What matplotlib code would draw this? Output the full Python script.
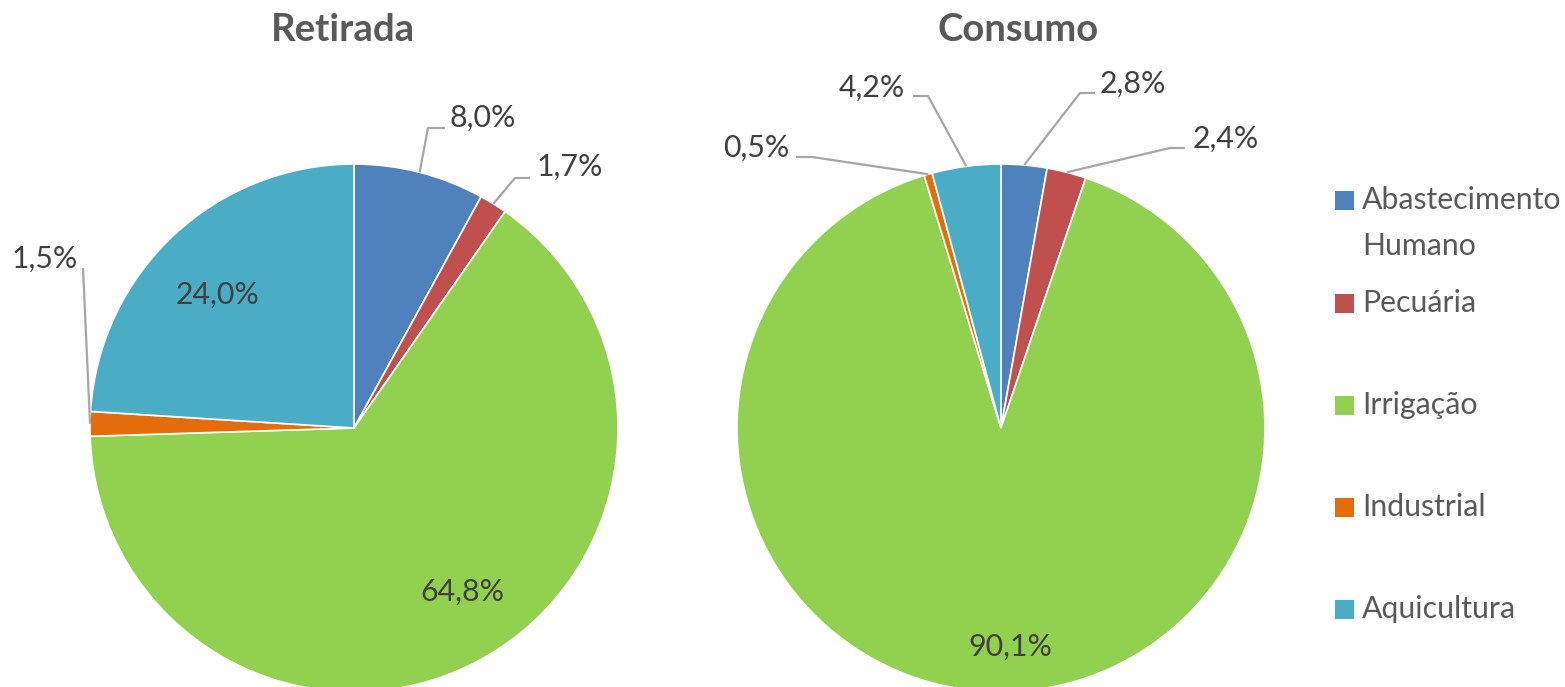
import matplotlib.pyplot as plt
from matplotlib.patches import Rectangle
import numpy as np

plt.rcParams["font.family"] = ["Lato", "DejaVu Sans"]

categories = ["Abastecimento\nHumano", "Pecuária", "Irrigação", "Industrial", "Aquicultura"]
retirada = [8.0, 1.7, 64.8, 1.5, 24.0]
consumo = [2.8, 2.4, 90.1, 0.5, 4.2]
retirada_labels = ["8,0%", "1,7%", "64,8%", "1,5%", "24,0%"]
consumo_labels = ["2,8%", "2,4%", "90,1%", "0,5%", "4,2%"]

colors = ["#4F81BD", "#C0504D", "#92D050", "#E46C0A", "#4BACC6"]
text_color = "#404040"
leader_color = "#A6A6A6"

W, H = 1565, 687
R = 264  # pie radius in pixels

fig = plt.figure(figsize=(W / 100, H / 100), dpi=100)


def make_ax(cx, cy, x0, x1):
    # axes spanning pixel columns x0..x1, full height, 1 data unit = R pixels
    ax = fig.add_axes([x0 / W, 0, (x1 - x0) / W, 1])
    ax.set_axis_off()
    return ax


def px(ax_c, p):
    cx, cy = ax_c
    return ((p[0] - cx) / R, (cy - p[1]) / R)


# label layout: (kind, text anchor px, ha, elbow px list)
layout_ret = [
    ("out", (450, 118), "left", [(428, 128), (445, 128)]),
    ("out", (537, 167), "left", [(515, 178), (530, 178)]),
    ("in", (462, 592), "center", []),
    ("out", (78, 259), "right", [(83, 268)]),
    ("in", (218, 295), "center", []),
]
layout_con = [
    ("out", (1100, 84), "left", [(1080, 93), (1095, 93)]),
    ("out", (1193, 139), "left", [(1170, 148), (1185, 148)]),
    ("in", (1010, 647), "center", []),
    ("out", (789, 148), "right", [(812, 157), (796, 157)]),
    ("out", (905, 88), "right", [(928, 96), (913, 96)]),
]


def draw_pie(values, labels, layout, cx, cy, x0, x1, title, title_x):
    ax = make_ax(cx, cy, x0, x1)
    wedges, _ = ax.pie(values, colors=colors, startangle=90, counterclock=False,
                       radius=1, center=(0, 0),
                       wedgeprops=dict(edgecolor="white", linewidth=1.2))
    ax.set_xlim((x0 - cx) / R, (x1 - cx) / R)
    ax.set_ylim((cy - H) / R, cy / R)
    ax.set_aspect("auto")
    for w, lab, (kind, tpos, ha, elbows) in zip(wedges, labels, layout):
        tx, ty = px((cx, cy), tpos)
        ax.text(tx, ty, lab, ha=ha, va="center", fontsize=21.8, color=text_color)
        if kind == "out":
            ang = np.deg2rad((w.theta1 + w.theta2) / 2)
            pts = [(np.cos(ang), np.sin(ang))] + [px((cx, cy), e) for e in elbows]
            xs, ys = zip(*pts)
            ax.plot(xs, ys, color=leader_color, lw=1.6, solid_capstyle="butt")
    fig.text(title_x / W, 1 - 30 / H, title, ha="center", va="center",
             fontsize=27.5, fontweight="bold", color="#595959")


draw_pie(retirada, retirada_labels, layout_ret, 354, 428, 0, 700, "Retirada", 343)
draw_pie(consumo, consumo_labels, layout_con, 1001, 428, 700, 1320, "Consumo", 1018)

# legend
leg_y = [200, 303, 405, 507, 609]
for c, name, y in zip(colors, categories, leg_y):
    fig.add_artist(Rectangle((1335 / W, 1 - (y + 9.5) / H), 19 / W, 19 / H,
                             transform=fig.transFigure, facecolor=c, edgecolor="none"))
    fig.text(1362 / W, 1 - (y - 14) / H, name, ha="left", va="top", fontsize=21.8,
             color="#595959", linespacing=1.8)

plt.savefig("out.png", dpi=100)
